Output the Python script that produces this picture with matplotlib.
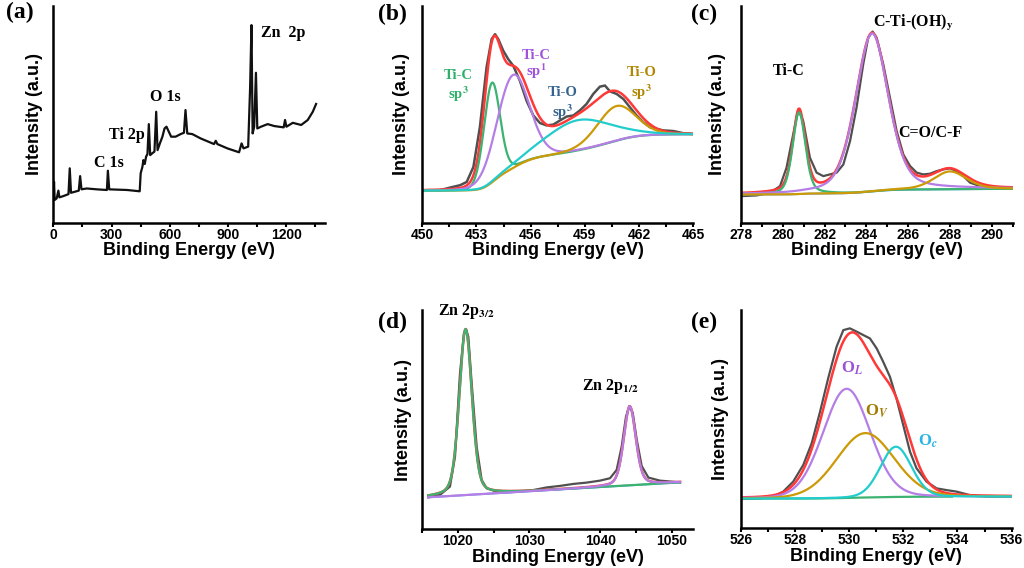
import numpy as np
import matplotlib
matplotlib.use('Agg')
import matplotlib.pyplot as plt
from matplotlib.ticker import MultipleLocator

# ---------------- (a) survey spectrum ----------------
survey_energy = [0, 3.5, 6.9, 17, 26, 31, 52, 78, 84.5, 91, 131, 138, 145, 172, 224,
                 276, 281, 288, 380, 445, 450, 459, 464, 471, 478, 485, 492, 499, 509,
                 521, 530, 537, 549, 562, 573, 583, 595, 607, 630, 656, 673, 681, 690,
                 716, 759, 828, 837, 845, 897, 957, 970, 980, 1004, 1014, 1021, 1027,
                 1035, 1044, 1051, 1070, 1104, 1139, 1187, 1194, 1201, 1234, 1277,
                 1311, 1337, 1354]
survey_counts = [10.5, 18.9, 10.5, 11.2, 14.8, 11.7, 12.3, 13.2, 25.1, 13.8, 14.8, 21.5,
                 15.4, 15.8, 15.4, 15.1, 24.0, 15.4, 15.1, 14.5, 22.8, 25.8, 28.9, 27.1,
                 30.5, 31.7, 45.5, 31.2, 32.0, 32.8, 51.2, 33.5, 36.6, 39.7, 43.5, 44.3,
                 42.0, 39.7, 39.7, 40.9, 41.5, 52.0, 41.2, 40.9, 38.9, 36.3, 37.8, 36.3,
                 34.3, 32.5, 36.6, 34.3, 35.1, 62.4, 91.2, 41.2, 44.3, 69.2, 43.5, 44.3,
                 45.5, 44.6, 44.0, 47.4, 44.3, 46.1, 45.1, 47.4, 51.2, 54.8]
survey_labels = ['C 1s', 'Ti 2p', 'O 1s', 'Zn  2p']
survey_label_x = [285, 380, 578, 1182]
survey_label_y = [27.4, 40.5, 58.2, 87.4]

# ---------------- (b) Ti 2p ----------------
ti_energy = [450.06, 450.98, 451.53, 452.09, 452.46, 452.83, 453.19, 453.56, 453.84,
             454.03, 454.21, 454.49, 454.76, 455.04, 455.41, 455.78, 456.15, 456.52,
             456.89, 457.26, 457.63, 458.00, 458.37, 458.73, 459.10, 459.47, 459.84,
             460.12, 460.40, 460.77, 461.14, 461.50, 461.87, 462.24, 462.61, 462.98,
             463.35, 463.91, 464.46, 464.98]
ti_counts = [14.7, 15.0, 16.2, 17.3, 18.8, 25.7, 44.1, 71.7, 84.7, 87.0, 84.7, 79.3,
             75.5, 72.4, 65.4, 56.2, 49.5, 46.0, 44.9, 45.3, 47.2, 49.0, 49.5, 51.8,
             54.8, 59.4, 62.8, 63.3, 60.6, 59.4, 57.1, 53.3, 49.5, 46.4, 44.1, 43.3,
             42.6, 42.3, 41.3, 40.9]
ti_centers = [453.86, 455.02, 458.6, 460.75]
ti_heights = [46, 43, 14, 16]
ti_fwhm = [1.05, 2.1, 4.2, 2.5]
ti_background = [14.7, 40.8]
ti_bond = ['Ti-C', 'Ti-C', 'Ti-O', 'Ti-O']
ti_hybrid = ['sp$^{\\mathbf{3}}$', 'sp$^{\\mathbf{1}}$', 'sp$^{\\mathbf{3}}$', 'sp$^{\\mathbf{3}}$']
ti_label_x = [452.0, 456.33, 457.77, 462.15]
ti_bond_y = [67.8, 77.0, 60.2, 69.4]
ti_hybrid_y = [59.4, 70.0, 51.0, 60.2]

# ---------------- (c) C 1s ----------------
c_energy = [278.11, 278.75, 279.39, 279.87, 280.18, 280.50, 280.74, 280.98, 281.30,
            281.62, 281.94, 282.26, 282.58, 282.90, 283.22, 283.53, 283.85, 284.09,
            284.30, 284.49, 284.81, 285.13, 285.45, 285.77, 286.09, 286.41, 286.72,
            287.04, 287.36, 287.68, 288.00, 288.32, 288.64, 288.96, 289.44, 289.91,
            290.39, 290.95]
c_counts = [12.3, 12.6, 13.8, 16.9, 25.4, 40.8, 52.3, 46.9, 30.0, 23.1, 21.5, 22.3,
            23.1, 26.9, 37.7, 53.1, 73.1, 85.4, 88.2, 85.4, 73.1, 57.7, 42.3, 31.5,
            26.2, 23.1, 22.3, 22.6, 23.8, 24.6, 25.1, 23.8, 21.5, 18.5, 16.9, 16.5,
            16.2, 15.8]
c_centers = [280.78, 284.27, 288.0]
c_heights = [37.7, 73.0, 8.2]
c_fwhm = [0.72, 1.85, 1.85]
c_background = [13.0, 15.6]
c_labels = ['Ti-C', 'C-Ti-(OH)$_{\\mathbf{y}}$', 'C=O/C-F']
c_label_x = [280.26, 286.25, 287.04]
c_label_y = [70.0, 92.3, 41.5]

# ---------------- (d) Zn 2p ----------------
zn_energy = [1015.84, 1017.48, 1018.88, 1019.59, 1020.29, 1020.85, 1021.13, 1021.46,
             1021.93, 1022.63, 1023.33, 1024.03, 1025.44, 1026.84, 1028.71, 1030.58,
             1032.45, 1034.33, 1036.20, 1038.07, 1039.94, 1041.35, 1042.28, 1042.98,
             1043.59, 1044.06, 1044.53, 1045.09, 1045.79, 1046.73, 1048.36, 1051.17]
zn_counts = [14.6, 15.7, 19.5, 33.1, 71.1, 89.4, 91.2, 87.8, 66.6, 37.7, 22.5, 18.7,
             17.2, 16.9, 17.2, 17.9, 19.1, 19.8, 20.7, 21.3, 22.2, 23.3, 27.1, 37.7,
             51.4, 56.2, 53.2, 41.0, 28.9, 23.6, 22.2, 21.4]
zn_centers = [1021.08, 1044.12]
zn_heights = [75.7, 36.0]
zn_fwhm = [2.1, 2.0]
zn_background = [14.6, 21.4]
zn_labels = ['Zn 2p$_{\\mathbf{3/2}}$', 'Zn 2p$_{\\mathbf{1/2}}$']
zn_label_x = [1021.2, 1041.35]
zn_label_y = [99.2, 65.0]

# ---------------- (e) O 1s ----------------
o_energy = [526.0, 526.71, 527.20, 527.57, 527.94, 528.31, 528.62, 528.93, 529.23,
            529.54, 529.79, 530.03, 530.28, 530.53, 530.77, 531.02, 531.26, 531.51,
            531.75, 532.00, 532.25, 532.49, 532.86, 533.23, 533.60, 533.97, 534.46,
            534.71, 535.20, 536.0]
o_counts = [13.4, 13.7, 14.5, 16.8, 21.4, 29.0, 38.9, 53.4, 68.7, 83.2, 90.8, 91.6,
            90.1, 88.5, 87.0, 82.4, 76.3, 69.4, 59.5, 47.3, 35.1, 27.5, 21.4, 18.3,
            17.5, 16.8, 15.2, 14.8, 14.5, 14.5]
o_centers = [529.91, 530.6, 531.73]
o_heights = [50.0, 29.5, 23.0]
o_fwhm = [2.05, 2.5, 1.35]
o_background = [13.6, 14.5]
o_labels = ['O$_{\\mathbfit{L}}$', 'O$_{\\mathbfit{V}}$', 'O$_{\\mathbfit{c}}$']
o_label_x = [530.1, 531.02, 532.92]
o_label_y = [73.3, 53.4, 39.7]

GRAY = '#505050'
RED = '#ff3838'
GREEN = '#3cb371'
PURPLE = '#b47ee6'
CYAN = '#22cccc'
GOLD = '#cc9a06'
BLUE = '#5a9cf0'

plt.rcParams['font.family'] = 'Liberation Sans'
plt.rcParams['font.weight'] = 'bold'
plt.rcParams['mathtext.fontset'] = 'stix'


def pseudo_voigt(e, center, height, fwhm, eta):
    x = (e - center) / fwhm
    return height * ((1 - eta) * np.exp(-4 * np.log(2) * x ** 2) + eta / (1 + 4 * x ** 2))


def shirley(peaks, lo, hi):
    cum = np.cumsum(np.sum(peaks, axis=0))
    return lo + (hi - lo) * cum / cum[-1]


def style_axis(ax, xlim, major, minor, ylabel_x):
    ax.set_xlim(*xlim)
    ax.set_ylim(0, 100)
    ax.set_yticks([])
    ax.xaxis.set_major_locator(MultipleLocator(major))
    ax.xaxis.set_minor_locator(MultipleLocator(minor))
    for side in ['top', 'right']:
        ax.spines[side].set_visible(False)
    for side in ['left', 'bottom']:
        ax.spines[side].set_linewidth(1.8)
    ax.tick_params(axis='x', which='both', direction='out', length=3, width=1.5,
                   pad=0.5, labelsize=10)
    ax.set_xlabel('Binding Energy (eV)', fontsize=13, fontweight='bold')
    ax.xaxis.set_label_coords(0.5, -0.088)
    ax.set_ylabel('Intensity (a.u.)', fontsize=13, fontweight='bold', va='center')
    ax.yaxis.set_label_coords(ylabel_x, 0.5)


def serif_text(ax, x, y, s, color='black', size=11.5):
    ax.text(x, y, s, ha='center', va='center', color=color, fontsize=size,
            family='Liberation Serif', fontweight='bold', clip_on=False)


fig = plt.figure(figsize=(10.24, 5.68), dpi=100)

ax_a = fig.add_axes([0.0521, 0.6079, 0.2653, 0.3815])
ax_b = fig.add_axes([0.4124, 0.6079, 0.2644, 0.3815])
ax_c = fig.add_axes([0.7236, 0.6079, 0.2653, 0.3815])
ax_d = fig.add_axes([0.4124, 0.0681, 0.2644, 0.3861])
ax_e = fig.add_axes([0.7233, 0.0699, 0.2646, 0.3843])

# (a)
ax_a.plot(survey_energy, survey_counts, color='#111111', lw=1.6)
style_axis(ax_a, (0, 1400), 300, 150, -0.071)
for s, x, y in zip(survey_labels, survey_label_x, survey_label_y):
    serif_text(ax_a, x, y, s)

# (b)
eb = np.linspace(450, 465, 900)
pb = [pseudo_voigt(eb, c, h, w, 0.1) for c, h, w in zip(ti_centers, ti_heights, ti_fwhm)]
bgb = shirley(pb, *ti_background)
ax_b.plot(ti_energy, ti_counts, color=GRAY, lw=1.8)
ax_b.plot(eb, bgb + np.sum(pb, axis=0), color=RED, lw=1.8)
ax_b.plot(eb, bgb + pb[0], color=GREEN, lw=1.6)
ax_b.plot(eb, bgb + pb[1], color=PURPLE, lw=1.6)
ax_b.plot(eb, bgb + pb[3], color=GOLD, lw=1.6)
ax_b.plot(eb, bgb + pb[2], color=CYAN, lw=1.6)
style_axis(ax_b, (450, 465), 3, 1.5, -0.075)
for i, col in enumerate(['#2fb06a', '#a052dc', '#35638f', '#b08600']):
    serif_text(ax_b, ti_label_x[i], ti_bond_y[i], ti_bond[i], color=col, size=10.5)
    serif_text(ax_b, ti_label_x[i], ti_hybrid_y[i], ti_hybrid[i], color=col, size=10.5)

# (c)
ec = np.linspace(278, 291, 900)
pc = [pseudo_voigt(ec, c, h, w, 0.35) for c, h, w in zip(c_centers, c_heights, c_fwhm)]
bgc = shirley(pc, *c_background)
ax_c.plot(c_energy, c_counts, color=GRAY, lw=1.6)
ax_c.plot(ec, bgc + np.sum(pc, axis=0), color=RED, lw=1.8)
ax_c.plot(ec, bgc, color=BLUE, lw=1.4)
ax_c.plot(ec, bgc + pc[0], color=GREEN, lw=1.6)
ax_c.plot(ec, bgc + pc[1], color=PURPLE, lw=1.6)
ax_c.plot(ec, bgc + pc[2], color=GOLD, lw=1.6)
style_axis(ax_c, (278, 291), 2, 1, -0.088)
for s, x, y in zip(c_labels, c_label_x, c_label_y):
    serif_text(ax_c, x, y, s, size=11.5)

# (d)
ed = np.linspace(zn_energy[0], zn_energy[-1], 900)
pd_ = [pseudo_voigt(ed, c, h, w, 0.3) for c, h, w in zip(zn_centers, zn_heights, zn_fwhm)]
bgd = np.linspace(zn_background[0], zn_background[1], ed.size)
ax_d.plot(zn_energy, zn_counts, color=GRAY, lw=1.6)
ax_d.plot(ed, bgd + np.sum(pd_, axis=0), color=RED, lw=1.8)
ax_d.plot(ed, bgd, color=BLUE, lw=1.4)
ax_d.plot(ed, bgd + pd_[0], color=GREEN, lw=1.6)
ax_d.plot(ed, bgd + pd_[1], color=PURPLE, lw=1.6)
style_axis(ax_d, (1015, 1053), 10, 5, -0.071)
for s, x, y in zip(zn_labels, zn_label_x, zn_label_y):
    serif_text(ax_d, x, y, s, size=11.5)

# (e)
ee = np.linspace(526, 536, 900)
pe = [pseudo_voigt(ee, c, h, w, 0.1) for c, h, w in zip(o_centers, o_heights, o_fwhm)]
bge = shirley(pe, *o_background)
ax_e.plot(o_energy, o_counts, color=GRAY, lw=1.6)
ax_e.plot(ee, bge + np.sum(pe, axis=0), color=RED, lw=1.8)
ax_e.plot(ee[ee < 533.8], bge[ee < 533.8], color=GREEN, lw=1.6)
ax_e.plot(ee, bge + pe[0], color=PURPLE, lw=1.6)
ax_e.plot(ee, bge + pe[1], color=GOLD, lw=1.6)
ax_e.plot(ee, bge + pe[2], color=CYAN, lw=1.6)
style_axis(ax_e, (526, 536), 2, 1, -0.073)
for s, x, y, col in zip(o_labels, o_label_x, o_label_y, ['#9a52d6', '#a07c00', '#28b4e6']):
    serif_text(ax_e, x, y, s, color=col, size=12)

# panel letters
for s, x, y in [('(a)', 0.0195, 0.978), ('(b)', 0.383, 0.974), ('(c)', 0.688, 0.974),
                ('(d)', 0.383, 0.433), ('(e)', 0.688, 0.433)]:
    fig.text(x, y, s, ha='center', va='center', fontsize=17,
             family='Liberation Serif', fontweight='bold')

fig.savefig('out.png', dpi=100)
